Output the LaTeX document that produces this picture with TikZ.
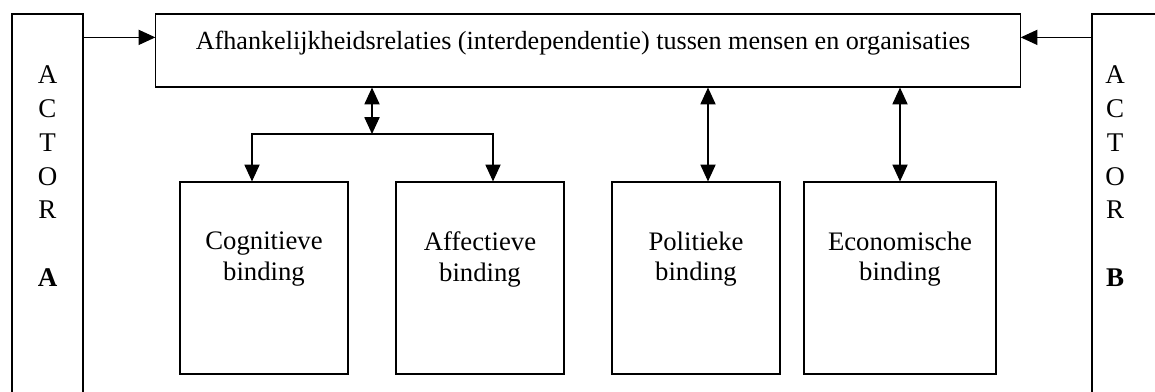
\documentclass[tikz,border=0pt]{standalone}
\usepackage{fontspec}
\setmainfont{Liberation Serif}
\usetikzlibrary{arrows.meta,calc,positioning}

\begin{document}
\begin{tikzpicture}[x=0.025cm,y=-0.025cm,line width=0.8pt,
	font=\fontsize{19}{21.6}\selectfont,
	box/.style={draw,rectangle,inner sep=0pt},
	actor/.style={box,minimum width=1.775cm,minimum height=10.4cm},
	binding/.style={box,minimum height=4.8cm},
	tekst/.style={inner sep=0pt,align=center},
	arr/.style={-{Triangle[length=0.42cm,width=0.38cm]}},
	dbl/.style={{Triangle[length=0.42cm,width=0.38cm]}-{Triangle[length=0.42cm,width=0.38cm]}}]
	\useasboundingbox (0,0) rectangle (1155,392);
	\clip (0,0) rectangle (1155,392);
	% actoren
	\node[actor] (actorA) at (47.5,222) {};
	\node[actor,minimum width=2.2cm] (actorB) at (1136,222) {};
	\node[tekst,anchor=north,font=\fontsize{19.2}{24.1}\selectfont] (nameA) at (47.5,65)
		{A\\C\\T\\O\\R\\[24.1pt]\textbf{A}};
	\node[tekst,anchor=north,font=\fontsize{19.2}{24.1}\selectfont] (nameB) at (1115,65)
		{A\\C\\T\\O\\R\\[24.1pt]\textbf{B}};
	% relaties
	\node[box,minimum width=21.6cm,minimum height=1.825cm] (top) at (588,50.5) {};
	\node[tekst,anchor=north,font=\fontsize{18.6}{21}\selectfont] (toptext) at (583,31)
		{Afhankelijkheidsrelaties (interdependentie) tussen mensen en organisaties};
	% bindingen
	\node[binding,minimum width=4.2cm] (cog) at (264,278) {};
	\node[binding,minimum width=4.2cm] (aff) at (480,278) {};
	\node[binding,minimum width=4.2cm] (pol) at (696,278) {};
	\node[binding,minimum width=4.8cm] (eco) at (900,278) {};
	\node[tekst,anchor=north] (cogtext) at ($(cog.north)+(0,50)$) {Cognitieve\\binding};
	\node[tekst,anchor=north] (afftext) at ($(aff.north)+(0,50)$) {Affectieve\\binding};
	\node[tekst,anchor=north] (poltext) at ($(pol.north)+(0,50)$) {Politieke\\binding};
	\node[tekst,anchor=north] (ecotext) at ($(eco.north)+(0,50)$) {Economische\\binding};
	% pijlen
	\coordinate (inA) at ($(actorA.north east)+(0,24)$);
	\coordinate (inB) at ($(actorB.north west)+(0,24)$);
	\draw[arr] (inA) -- (inA -| top.west);
	\draw[arr] (inB) -- (inB -| top.east);
	\coordinate (split) at (372,134);
	\draw[dbl] (split |- top.south) -- (split);
	\draw[arr] (split) -| ($(cog.north)+(-12,0)$);
	\draw[arr] (split) -| ($(aff.north)+(13,0)$);
	\coordinate (polin) at ($(pol.north)+(12,0)$);
	\draw[dbl] (polin |- top.south) -- (polin);
	\draw[dbl] (eco.north |- top.south) -- (eco.north);
\end{tikzpicture}
\end{document}
